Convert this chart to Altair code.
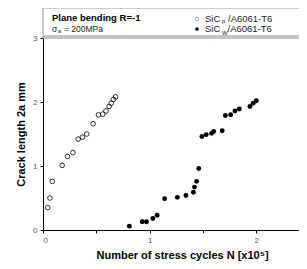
import altair as alt
import pandas as pd

# SiCp/A6061-T6 (open circles)
p_N = [0.044, 0.065, 0.087, 0.18, 0.23, 0.28, 0.33, 0.37, 0.41, 0.47, 0.52, 0.56, 0.59, 0.62, 0.64, 0.66, 0.68]
p_a = [0.35, 0.50, 0.76, 1.01, 1.15, 1.21, 1.42, 1.45, 1.50, 1.66, 1.80, 1.81, 1.86, 1.93, 1.98, 2.04, 2.08]

# SiCw/A6061-T6 (filled circles)
w_N = [0.81, 0.93, 0.97, 1.03, 1.07, 1.14, 1.26, 1.34, 1.41, 1.42, 1.44, 1.46, 1.49, 1.53, 1.58, 1.60,
       1.68, 1.71, 1.76, 1.80, 1.84, 1.94, 1.97, 2.00]
w_a = [0.06, 0.13, 0.13, 0.18, 0.23, 0.49, 0.51, 0.54, 0.59, 0.67, 0.76, 0.96, 1.46, 1.49, 1.51, 1.54,
       1.55, 1.79, 1.80, 1.86, 1.89, 1.93, 1.98, 2.02]

x_ticks = [0, 0.5, 1, 1.5, 2]
y_ticks = [0, 0.5, 1, 1.5, 2, 2.5, 3]

FONT = "Arial, Liberation Sans, sans-serif"
W, H = 256, 192

df_p = pd.DataFrame({"N": p_N, "a": p_a})
df_w = pd.DataFrame({"N": w_N, "a": w_a})

xs = alt.Scale(domain=[0, 2.4], nice=False)
ys = alt.Scale(domain=[0, 3], nice=False)

LBL = "datum.value % 1 == 0 ? format(datum.value, 'd') : ''"
x_axis = alt.Axis(values=x_ticks, labelExpr=LBL,
                  title="Number of stress cycles N [x10⁵]", titlePadding=5,
                  titleX=139, titleAlign="center")
y_axis = alt.Axis(values=y_ticks, labelExpr=LBL,
                  title="Crack length 2a  mm", titlePadding=6)

open_pts = alt.Chart(df_p).mark_point(shape="circle", filled=False, color="black",
                                      strokeWidth=0.8, size=22, opacity=1).encode(
    x=alt.X("N:Q", scale=xs, axis=x_axis),
    y=alt.Y("a:Q", scale=ys, axis=y_axis),
)
fill_pts = alt.Chart(df_w).mark_point(shape="circle", filled=True, color="black",
                                      size=24, opacity=1).encode(
    x=alt.X("N:Q", scale=xs),
    y=alt.Y("a:Q", scale=ys),
)

# header box (decoration)
hdr = pd.DataFrame({"k": [0]})
base = alt.Chart(hdr)
box_top = base.mark_rule(color="#999", strokeWidth=1).encode(
    x=alt.value(0), x2=alt.value(W), y=alt.value(-30))
box_left = base.mark_rule(color="#999", strokeWidth=1).encode(
    x=alt.value(0), y=alt.value(-30), y2=alt.value(0))
box_b1 = base.mark_rule(color="#888", strokeWidth=1.2).encode(
    x=alt.value(0), x2=alt.value(W), y=alt.value(-2))
box_b2 = base.mark_rule(color="#888", strokeWidth=1.2).encode(
    x=alt.value(0), x2=alt.value(W), y=alt.value(0))


def txt(s, x, y, size=9.5, bold=False, color="black"):
    return base.mark_text(text=s, align="left", baseline="alphabetic", font=FONT,
                          fontSize=size, fontWeight="bold" if bold else "normal",
                          color=color).encode(x=alt.value(x), y=alt.value(y))


t1 = txt("Plane bending R=-1", 9, -17.5, 9.5, True)
t2a = txt("σ", 9, -6.5, 8.5, False, "#222")
t2b = txt("a", 15, -5, 5.5, False, "#222")
t2c = txt("= 200MPa", 21, -6.5, 8.5, False, "#222")

l1m = base.mark_point(shape="circle", filled=False, color="#888", strokeWidth=0.7, size=12,
                      opacity=1).encode(x=alt.value(154), y=alt.value(-19))
l2m = base.mark_point(shape="circle", filled=True, color="black", size=14,
                      opacity=1).encode(x=alt.value(154), y=alt.value(-9))
l1a = txt("SiC", 162, -16.5, 9.5, False, "#222")
l1b = txt("p", 179, -15, 6, False, "#222")
l1c = txt("/A6061-T6", 185, -16.5, 9.5, False, "#222")
l2a = txt("SiC", 162, -6, 9.5, False, "#222")
l2b = txt("W", 179, -3.5, 6, False, "#222")
l2c = txt("/A6061-T6", 184.5, -6, 9.5, False, "#222")

chart = alt.layer(
    open_pts, fill_pts, box_top, box_left, box_b1, box_b2,
    t1, t2a, t2b, t2c, l1m, l2m, l1a, l1b, l1c, l2a, l2b, l2c
).properties(
    width=W, height=H,
    autosize=alt.AutoSizeParams(type="none"),
    padding={"left": 35, "top": 30, "right": 0, "bottom": 31},
).configure_view(stroke=None).configure_axis(
    grid=False, domainColor="black", tickColor="black", tickSize=3,
    labelColor="#555", labelFont=FONT, labelFontSize=8,
    titleFont=FONT, titleFontSize=11, titleFontWeight="bold", titleColor="black",
    labelPadding=3,
)

chart.save("out.html", embed_options={"renderer": "svg", "actions": False})
